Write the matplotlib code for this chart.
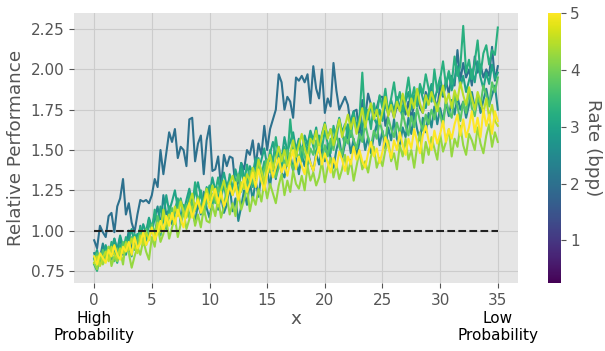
import numpy as np
import matplotlib
matplotlib.use("Agg")
import matplotlib.pyplot as plt
from matplotlib.colors import Normalize
from matplotlib.cm import ScalarMappable

# ---------------- data ----------------
x = np.linspace(0, 35, 141)          # step 0.25

rates = [2.0, 2.5, 3.0, 3.25, 3.75, 4.25, 4.5, 5.0]

perf_r20 = [
    0.94, 0.89, 1.03, 0.99, 0.96, 1.09, 1.11, 0.99, 1.15, 1.20, 1.32, 1.10,
    1.17, 1.05, 0.99, 1.10, 1.19, 1.18, 1.19, 1.17, 1.22, 1.32, 1.27, 1.50,
    1.35, 1.48, 1.61, 1.55, 1.63, 1.45, 1.52, 1.50, 1.40, 1.69, 1.70, 1.43,
    1.54, 1.59, 1.35, 1.56, 1.65, 1.37, 1.38, 1.46, 1.27, 1.47, 1.40, 1.46,
    1.45, 1.27, 1.30, 1.42, 1.38, 1.50, 1.47, 1.56, 1.40, 1.54, 1.47, 1.65,
    1.50, 1.63, 1.69, 1.75, 1.97, 1.92, 1.75, 1.83, 1.80, 1.70, 1.95, 1.93,
    1.96, 1.92, 1.97, 1.79, 2.02, 1.88, 1.82, 2.00, 1.73, 1.82, 1.77, 2.04,
    1.87, 1.75, 1.79, 1.83, 1.78, 1.65, 1.74, 1.75, 1.58, 1.81, 1.70, 1.85,
    1.78, 1.71, 1.76, 1.83, 1.83, 1.65, 1.72, 1.77, 1.70, 1.77, 1.75, 1.84,
    1.72, 1.80, 1.70, 1.78, 1.84, 1.76, 1.73, 1.86, 1.79, 1.88, 1.82, 1.76,
    1.90, 1.83, 1.93, 1.85, 1.96, 1.90, 2.12, 1.93, 2.04, 1.95, 2.00, 1.90,
    2.08, 1.98, 2.03, 1.95, 2.00, 1.96, 2.14, 1.93, 2.02]

perf_r25 = [
    0.86, 0.80, 0.83, 0.92, 0.84, 0.89, 0.82, 0.95, 0.87, 0.96, 0.85, 0.90,
    1.00, 0.88, 0.94, 0.91, 1.03, 0.93, 0.98, 1.07, 0.99, 1.08, 1.15, 1.02,
    1.22, 1.10, 1.13, 1.04, 1.12, 1.19, 1.07, 1.15, 1.09, 1.22, 1.13, 1.05,
    1.17, 1.10, 1.24, 1.14, 1.08, 1.18, 1.27, 1.13, 1.22, 1.11, 1.16, 1.28,
    1.12, 1.20, 1.06, 1.15, 1.25, 1.16, 1.30, 1.19, 1.31, 1.21, 1.35, 1.26,
    1.38, 1.27, 1.43, 1.32, 1.47, 1.36, 1.33, 1.44, 1.48, 1.37, 1.45, 1.35,
    1.47, 1.40, 1.50, 1.42, 1.37, 1.48, 1.41, 1.52, 1.43, 1.54, 1.45, 1.39,
    1.50, 1.57, 1.45, 1.54, 1.60, 1.48, 1.57, 1.46, 1.55, 1.63, 1.50, 1.58,
    1.48, 1.59, 1.66, 1.53, 1.62, 1.51, 1.64, 1.56, 1.69, 1.57, 1.52, 1.64,
    1.58, 1.70, 1.60, 1.73, 1.63, 1.56, 1.70, 1.61, 1.73, 1.64, 1.77, 1.66,
    1.76, 1.68, 1.80, 1.71, 1.81, 1.72, 1.83, 1.75, 1.80, 1.70, 1.78, 1.86,
    1.76, 1.84, 1.73, 1.81, 1.88, 1.78, 1.84, 1.90, 1.75]

perf_r30 = [
    0.83, 0.88, 0.79, 0.86, 0.91, 0.84, 0.89, 0.95, 0.88, 0.97, 0.90, 0.85,
    0.95, 1.01, 0.92, 0.98, 0.94, 1.04, 0.99, 1.08, 1.02, 1.10, 1.03, 1.15,
    1.07, 1.22, 1.12, 1.18, 1.25, 1.14, 1.20, 1.11, 1.19, 1.26, 1.17, 1.23,
    1.30, 1.21, 1.16, 1.27, 1.22, 1.33, 1.25, 1.19, 1.29, 1.36, 1.27, 1.33,
    1.25, 1.38, 1.31, 1.42, 1.34, 1.29, 1.40, 1.35, 1.45, 1.37, 1.44, 1.51,
    1.40, 1.48, 1.55, 1.46, 1.52, 1.44, 1.58, 1.49, 1.55, 1.61, 1.50, 1.57,
    1.48, 1.59, 1.53, 1.62, 1.56, 1.64, 1.52, 1.60, 1.67, 1.58, 1.63, 1.55,
    1.62, 1.70, 1.61, 1.66, 1.59, 1.68, 1.74, 1.64, 1.71, 1.63, 1.76, 1.69,
    1.78, 1.70, 1.66, 1.75, 1.68, 1.79, 1.72, 1.81, 1.74, 1.83, 1.77, 1.70,
    1.80, 1.86, 1.75, 1.84, 1.78, 1.89, 1.82, 1.76, 1.85, 1.91, 1.80, 1.88,
    1.95, 1.84, 1.90, 1.98, 1.87, 1.94, 2.02, 1.89, 1.96, 1.86, 1.93, 2.00,
    1.92, 2.05, 1.95, 1.88, 1.98, 1.91, 2.03, 1.94, 1.98]

perf_r325 = [
    0.79, 0.75, 0.84, 0.81, 0.88, 0.82, 0.93, 0.86, 0.80, 0.91, 0.87, 0.96,
    0.90, 0.84, 0.98, 0.93, 1.02, 0.95, 0.91, 1.06, 0.99, 1.13, 1.04, 0.97,
    1.08, 1.01, 1.15, 1.06, 1.12, 1.20, 1.04, 1.16, 1.09, 1.22, 1.14, 1.30,
    1.17, 1.25, 1.11, 1.21, 1.28, 1.16, 1.24, 1.33, 1.20, 1.29, 1.18, 1.35,
    1.26, 1.32, 1.23, 1.38, 1.29, 1.41, 1.33, 1.27, 1.38, 1.45, 1.34, 1.43,
    1.36, 1.50, 1.42, 1.58, 1.45, 1.39, 1.52, 1.44, 1.69, 1.50, 1.47, 1.56,
    1.43, 1.55, 1.49, 1.61, 1.52, 1.47, 1.59, 1.51, 1.62, 1.54, 1.48, 1.65,
    1.57, 1.69, 1.60, 1.53, 1.66, 1.58, 1.72, 1.62, 1.70, 1.98, 1.68, 1.75,
    1.63, 1.79, 1.71, 1.84, 1.76, 1.88, 1.73, 1.82, 1.92, 1.78, 1.86, 1.74,
    1.83, 1.95, 1.80, 1.89, 1.77, 1.91, 1.85, 1.97, 1.88, 1.80, 2.00, 1.86,
    1.94, 2.05, 1.90, 1.99, 1.91, 2.08, 1.96, 2.02, 2.27, 1.98, 2.06, 1.94,
    2.05, 2.18, 1.97, 2.10, 2.15, 2.03, 2.12, 2.09, 2.26]

perf_r375 = [
    0.82, 0.86, 0.80, 0.88, 0.83, 0.90, 0.85, 0.81, 0.89, 0.84, 0.93, 0.87,
    0.91, 0.96, 0.88, 0.94, 0.99, 0.92, 1.01, 0.96, 1.04, 0.98, 1.09, 1.02,
    1.10, 1.03, 1.08, 1.14, 1.06, 1.13, 1.19, 1.10, 1.16, 1.08, 1.18, 1.12,
    1.21, 1.14, 1.10, 1.19, 1.15, 1.23, 1.17, 1.27, 1.21, 1.16, 1.25, 1.30,
    1.22, 1.28, 1.35, 1.24, 1.31, 1.26, 1.37, 1.29, 1.34, 1.41, 1.30, 1.38,
    1.44, 1.36, 1.42, 1.33, 1.39, 1.47, 1.41, 1.50, 1.43, 1.38, 1.49, 1.45,
    1.52, 1.46, 1.40, 1.51, 1.47, 1.56, 1.49, 1.44, 1.53, 1.46, 1.57, 1.50,
    1.60, 1.52, 1.47, 1.58, 1.54, 1.63, 1.56, 1.51, 1.60, 1.55, 1.66, 1.58,
    1.52, 1.62, 1.57, 1.68, 1.61, 1.55, 1.70, 1.63, 1.58, 1.67, 1.60, 1.73,
    1.65, 1.59, 1.71, 1.64, 1.76, 1.68, 1.62, 1.72, 1.66, 1.75, 1.69, 1.79,
    1.72, 1.65, 1.81, 1.74, 1.70, 1.84, 1.77, 1.68, 1.80, 1.73, 1.87, 1.76,
    1.71, 1.82, 1.78, 1.90, 1.84, 1.77, 1.92, 1.86, 1.95]

perf_r425 = [
    0.80, 0.76, 0.85, 0.79, 0.83, 0.90, 0.78, 0.84, 0.81, 0.88, 0.79, 0.93,
    0.86, 0.77, 0.84, 0.90, 0.85, 0.94, 0.87, 0.82, 0.96, 0.90, 1.03, 0.93,
    0.98, 1.07, 0.95, 1.02, 1.08, 0.96, 1.04, 1.12, 1.01, 1.07, 1.15, 1.03,
    1.10, 1.02, 1.14, 1.06, 1.05, 1.16, 1.09, 1.20, 1.08, 1.15, 1.22, 1.10,
    1.17, 1.09, 1.24, 1.13, 1.19, 1.27, 1.12, 1.21, 1.16, 1.26, 1.18, 1.30,
    1.20, 1.29, 1.23, 1.17, 1.28, 1.35, 1.22, 1.31, 1.24, 1.37, 1.29, 1.26,
    1.34, 1.25, 1.40, 1.31, 1.36, 1.28, 1.33, 1.43, 1.30, 1.39, 1.45, 1.33,
    1.41, 1.32, 1.38, 1.47, 1.35, 1.44, 1.31, 1.40, 1.49, 1.38, 1.43, 1.36,
    1.46, 1.52, 1.39, 1.45, 1.40, 1.50, 1.56, 1.43, 1.48, 1.38, 1.53, 1.46,
    1.57, 1.44, 1.50, 1.39, 1.52, 1.61, 1.42, 1.55, 1.47, 1.58, 1.51, 1.44,
    1.60, 1.49, 1.55, 1.63, 1.46, 1.57, 1.52, 1.65, 1.53, 1.47, 1.60, 1.56,
    1.50, 1.64, 1.54, 1.48, 1.59, 1.66, 1.52, 1.61, 1.55]

perf_r45 = [
    0.80, 0.84, 0.78, 0.83, 0.87, 0.81, 0.90, 0.85, 0.83, 0.89, 0.86, 0.92,
    0.88, 0.95, 0.90, 0.86, 0.97, 0.91, 0.99, 0.94, 1.01, 0.95, 1.05, 0.99,
    1.13, 1.04, 1.10, 1.07, 1.15, 1.09, 1.18, 1.12, 1.08, 1.17, 1.23, 1.14,
    1.20, 1.12, 1.18, 1.26, 1.19, 1.28, 1.21, 1.15, 1.25, 1.31, 1.22, 1.29,
    1.34, 1.27, 1.20, 1.30, 1.26, 1.35, 1.31, 1.39, 1.33, 1.44, 1.37, 1.30,
    1.41, 1.47, 1.38, 1.45, 1.52, 1.43, 1.50, 1.40, 1.48, 1.56, 1.46, 1.53,
    1.60, 1.51, 1.45, 1.57, 1.54, 1.62, 1.50, 1.59, 1.66, 1.57, 1.63, 1.53,
    1.61, 1.69, 1.58, 1.65, 1.72, 1.63, 1.70, 1.60, 1.67, 1.76, 1.64, 1.73,
    1.79, 1.69, 1.75, 1.66, 1.74, 1.83, 1.71, 1.78, 1.70, 1.80, 1.74, 1.85,
    1.77, 1.71, 1.82, 1.76, 1.88, 1.79, 1.73, 1.84, 1.78, 1.86, 1.80, 1.74,
    1.83, 1.90, 1.79, 1.85, 1.76, 1.87, 1.81, 1.92, 1.84, 1.78, 1.89, 1.82,
    1.75, 1.86, 1.80, 1.73, 1.82, 1.70, 1.78, 1.68, 1.65]

perf_r50 = [
    0.84, 0.79, 0.86, 0.83, 0.80, 0.88, 0.84, 0.91, 0.85, 0.82, 0.90, 0.87,
    0.93, 0.85, 0.96, 0.89, 0.92, 0.99, 0.91, 0.95, 1.02, 0.94, 0.99, 1.06,
    1.00, 1.09, 1.03, 1.11, 1.04, 1.13, 1.07, 1.02, 1.12, 1.17, 1.08, 1.14,
    1.19, 1.11, 1.16, 1.23, 1.14, 1.21, 1.26, 1.17, 1.24, 1.15, 1.20, 1.28,
    1.22, 1.30, 1.19, 1.26, 1.33, 1.24, 1.29, 1.36, 1.27, 1.38, 1.31, 1.25,
    1.35, 1.42, 1.33, 1.39, 1.45, 1.36, 1.41, 1.34, 1.43, 1.50, 1.38, 1.46,
    1.40, 1.35, 1.47, 1.42, 1.37, 1.46, 1.52, 1.41, 1.48, 1.42, 1.36, 1.45,
    1.39, 1.49, 1.44, 1.37, 1.46, 1.41, 1.52, 1.44, 1.50, 1.43, 1.39, 1.48,
    1.55, 1.46, 1.51, 1.42, 1.49, 1.58, 1.52, 1.45, 1.56, 1.50, 1.61, 1.53,
    1.47, 1.57, 1.51, 1.63, 1.55, 1.48, 1.59, 1.65, 1.56, 1.50, 1.62, 1.54,
    1.60, 1.68, 1.55, 1.63, 1.57, 1.66, 1.72, 1.59, 1.69, 1.58, 1.64, 1.74,
    1.61, 1.70, 1.58, 1.75, 1.65, 1.72, 1.60, 1.74, 1.68]

series = [perf_r20, perf_r25, perf_r30, perf_r325,
          perf_r375, perf_r425, perf_r45, perf_r50]

ref_x = [0, 35]
ref_y = [1.0, 1.0]

yticks = [0.75, 1.00, 1.25, 1.50, 1.75, 2.00, 2.25]
xticks = [0, 5, 10, 15, 20, 25, 30, 35]
cbar_ticks = [1, 2, 3, 4, 5]
rate_min, rate_max = 0.25, 5.0

# ---------------- plotting ----------------
plt.style.use("ggplot")
plt.rcParams["font.family"] = ["DejaVu Sans"]
plt.rcParams["font.size"] = 11

GRAY = "#555555"
TICK_FS = 11
LABEL_FS = 13.2

fig = plt.figure(figsize=(6.05, 3.51), dpi=100)
ax = fig.add_axes([74 / 605, 1 - 283 / 351, 444 / 605, 270 / 351])
cax = fig.add_axes([548 / 605, 1 - 283 / 351, 12.5 / 605, 270 / 351])

norm = Normalize(vmin=rate_min, vmax=rate_max)
cmap = plt.get_cmap("viridis")

for r, vals in zip(rates, series):
    ax.plot(x, vals, color=cmap(norm(r)), lw=1.5)

ax.plot(ref_x, ref_y, color="#222222", ls="--", lw=1.5)

ax.set_facecolor("#E5E5E5")
ax.grid(True, color="#cccccc", lw=0.8)
ax.set_axisbelow(True)
for s in ax.spines.values():
    s.set_visible(False)

ax.set_xticks(xticks)
ax.set_yticks(yticks)
ax.set_yticklabels([f"{v:.2f}" for v in yticks])
ax.tick_params(axis="both", colors=GRAY, labelsize=TICK_FS, length=3.5)
ax.set_xlim(-1.75, 36.75)
ax.set_ylim(0.675, 2.35)

ax.set_ylabel("Relative Performance", fontsize=LABEL_FS, color=GRAY)
ax.set_xlabel("x", fontsize=LABEL_FS, color=GRAY, labelpad=2)

ax.annotate("High\nProbability", xy=(0, 0), xycoords=("data", "axes fraction"),
            xytext=(0, -20), textcoords="offset points",
            ha="center", va="top", fontsize=11, color="black")
ax.annotate("Low\nProbability", xy=(35, 0), xycoords=("data", "axes fraction"),
            xytext=(0, -20), textcoords="offset points",
            ha="center", va="top", fontsize=11, color="black")

sm = ScalarMappable(norm=norm, cmap=cmap)
sm.set_array([])
cb = fig.colorbar(sm, cax=cax)
cb.outline.set_visible(False)
cb.set_ticks(cbar_ticks)
cb.ax.tick_params(colors=GRAY, labelsize=TICK_FS, length=3.5)
cb.set_label("Rate (bpp)", rotation=270, va="bottom", fontsize=LABEL_FS,
             color=GRAY, labelpad=3)

fig.savefig("out.png", dpi=100)
